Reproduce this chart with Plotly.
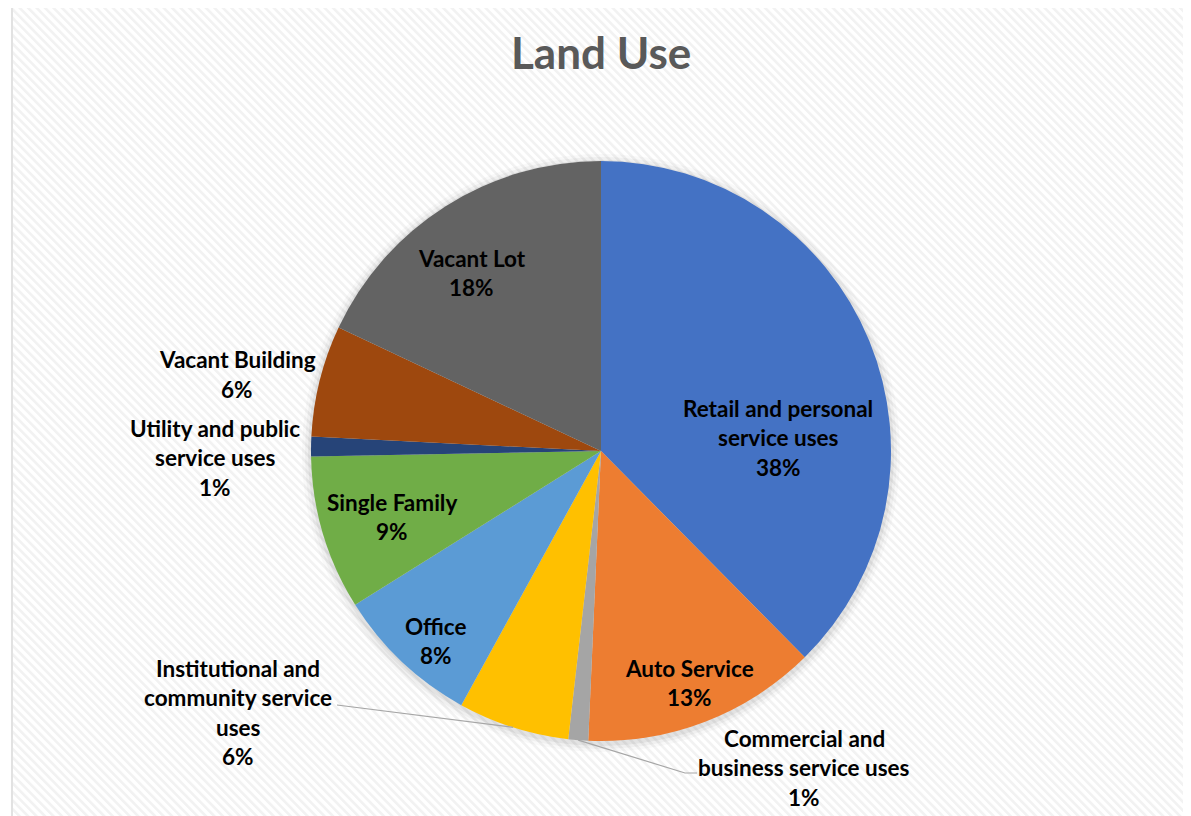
import base64
import math
import plotly.graph_objects as go

# ---------------- data ----------------
categories = [
    "Retail and personal service uses",
    "Auto Service",
    "Commercial and business service uses",
    "Institutional and community service uses",
    "Office",
    "Single Family",
    "Utility and public service uses",
    "Vacant Building",
    "Vacant Lot",
]
shares = [37.6, 13.1, 1.1, 6.2, 8.1, 8.6, 1.1, 6.2, 18.0]
label_lines = [
    ["Retail and personal", "service uses"],
    ["Auto Service"],
    ["Commercial and", "business service uses"],
    ["Institutional and", "community service", "uses"],
    ["Office"],
    ["Single Family"],
    ["Utility and public", "service uses"],
    ["Vacant Building"],
    ["Vacant Lot"],
]
slice_colors = ["#4472C4", "#ED7D31", "#A5A5A5", "#FFC000", "#5B9BD5",
                "#70AD47", "#264478", "#9E480E", "#636363"]

# ---------------- layout geometry (window pixels) ----------------
OFF = 8                      # page body margin
FW, FH = 1191 - OFF, 816 - OFF
CX, CY, R = 601, 451, 290
LS = 29.6  # label line spacing
# first-line centre of each label block
label_pos = [(778, 408), (689, 668), (804, 738), (238, 668), (436, 626),
             (392, 502), (215, 428), (237, 360), (472, 258)]
# leader lines: category index -> text-side points (pixels)
leaders = {2: [(697, 773), (685, 773)], 3: [(337, 705)]}


def px(x):
    return (x - OFF) / FW


def py(y):
    return 1 - (y - OFF) / FH


fig = go.Figure(go.Pie(
    labels=categories,
    values=shares,
    sort=False,
    direction="clockwise",
    rotation=0,
    marker=dict(colors=slice_colors, line=dict(width=0)),
    textinfo="none",
    hoverinfo="label+percent",
    showlegend=False,
    domain=dict(x=[px(CX - R), px(CX + R)], y=[py(CY + R), py(CY - R)]),
))

total = sum(shares)
annotations = []
font = dict(family="Lato, Noto Sans, sans-serif", size=22.5, color="#000000", weight="bold")
for i, lines in enumerate(label_lines):
    pct = f"{round(shares[i] / total * 100)}%"
    lx, ly = label_pos[i]
    for j, t in enumerate(lines + [pct]):
        annotations.append(dict(
            x=px(lx), y=py(ly + j * LS), xref="paper", yref="paper",
            text=t, showarrow=False, font=font,
            xanchor="center", yanchor="middle",
        ))

annotations.append(dict(
    x=px(CX), y=py(52), xref="paper", yref="paper", text="Land Use",
    showarrow=False, xanchor="center", yanchor="middle",
    font=dict(family="Lato, Noto Sans, sans-serif", size=44, color="#595959", weight="bold"),
))

shapes = []
# soft shadow halo under the pie
for dr, a in [(9, 0.025), (6, 0.035), (3, 0.05)]:
    shapes.append(dict(
        type="circle", xref="paper", yref="paper", layer="below",
        x0=px(CX - R - dr), x1=px(CX + R + dr),
        y0=py(CY + R + dr + 2), y1=py(CY - R - dr + 2),
        fillcolor=f"rgba(0,0,0,{a})", line=dict(width=0),
    ))

# leader lines from slice mid-angle on the rim to the label
cum = 0
for i, v in enumerate(shares):
    mid = (cum + v / 2) / total
    cum += v
    if i in leaders:
        th = 2 * math.pi * mid
        ex, ey = CX + R * math.sin(th), CY - R * math.cos(th)
        pts = [(ex, ey)] + leaders[i][::-1]
        path = "M " + " L ".join(f"{px(x)},{py(y)}" for x, y in pts)
        shapes.append(dict(type="path", xref="paper", yref="paper", path=path,
                           line=dict(color="#A6A6A6", width=1.2), layer="above"))

# chart border
shapes.append(dict(type="rect", xref="paper", yref="paper",
                   x0=px(12), x1=px(1189), y0=py(830), y1=py(2.5),
                   line=dict(color="#D9D9D9", width=1.5), layer="below"))

# diagonal hatch background (Excel style)
svg = ('<svg xmlns="http://www.w3.org/2000/svg" width="1177" height="816">'
       '<defs><pattern id="p" width="6" height="6" patternUnits="userSpaceOnUse" '
       'patternTransform="rotate(-45)">'
       '<rect width="6" height="6" fill="#ffffff"/>'
       '<rect width="2.6" height="6" fill="#f2f2f2"/></pattern></defs>'
       '<rect width="1177" height="816" fill="url(#p)"/></svg>')
src = "data:image/svg+xml;base64," + base64.b64encode(svg.encode()).decode()

fig.update_layout(
    width=FW, height=FH,
    margin=dict(l=0, r=0, t=0, b=0),
    paper_bgcolor="#ffffff",
    annotations=annotations,
    shapes=shapes,
    images=[dict(source=src, xref="paper", yref="paper",
                 x=px(13), y=py(3), sizex=px(1188) - px(13), sizey=py(3) - py(830),
                 xanchor="left", yanchor="top", sizing="stretch", layer="below")],
)

fig.write_html("out.html")
